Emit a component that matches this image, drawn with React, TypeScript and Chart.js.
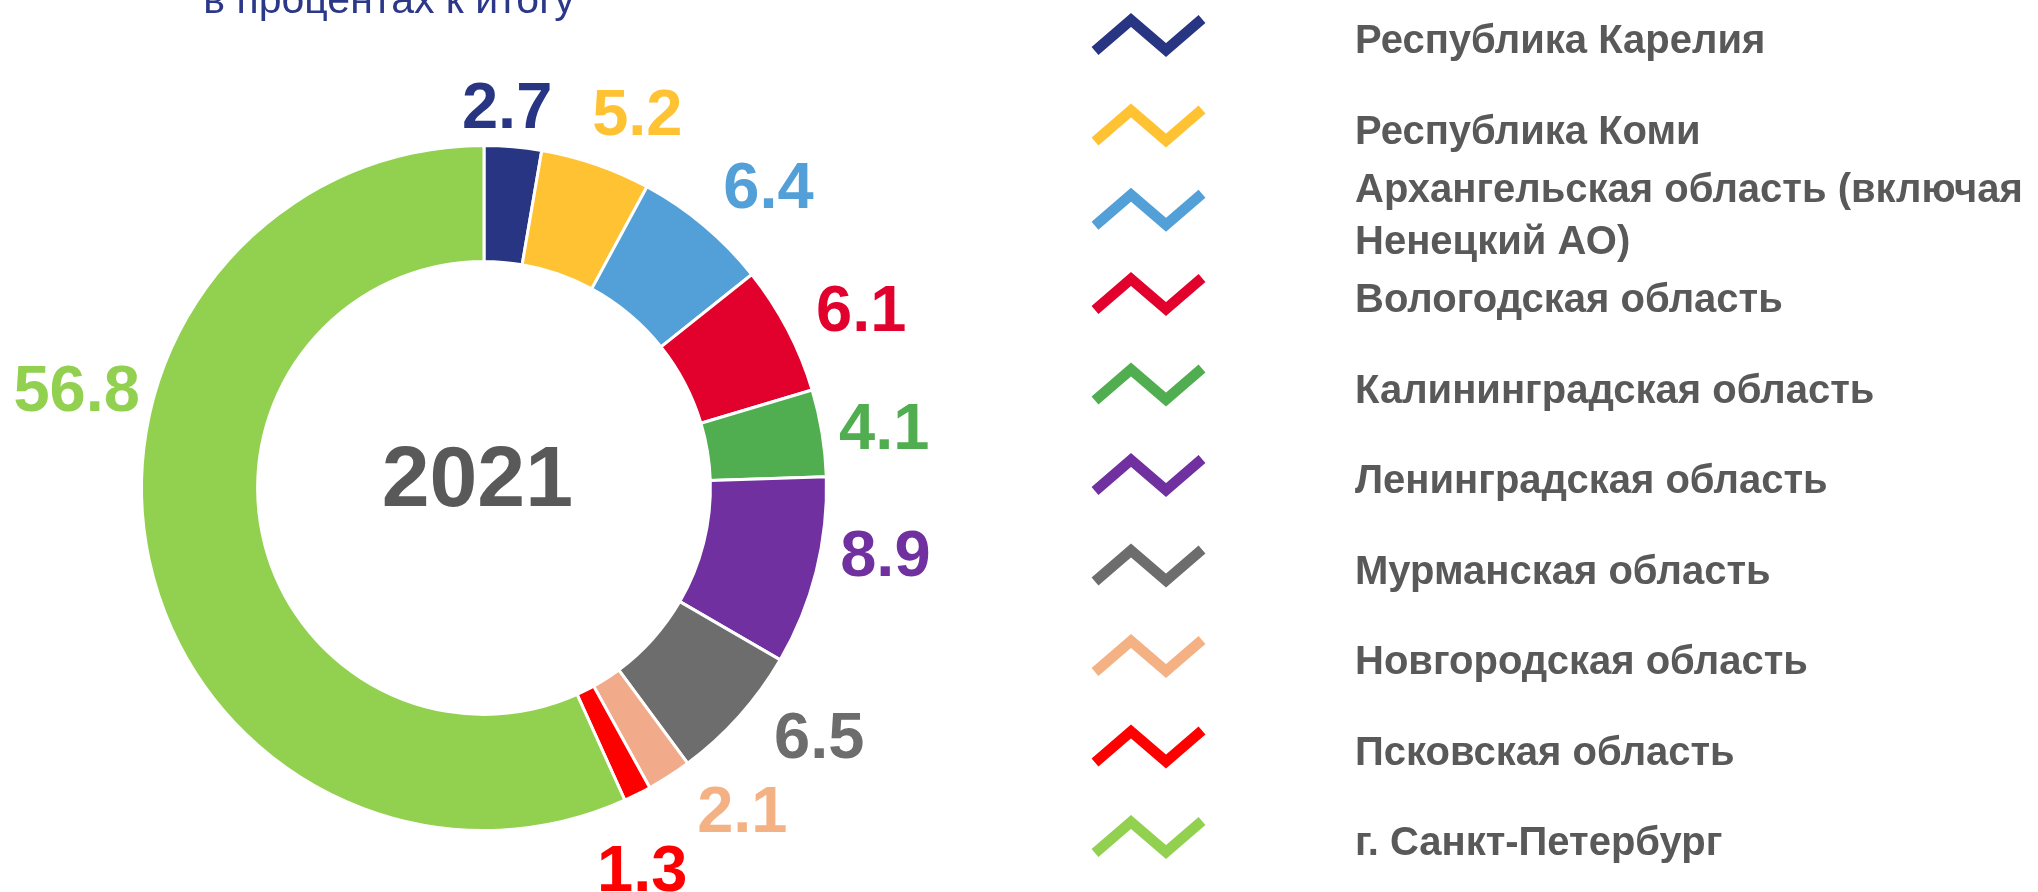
import React, { useEffect, useRef } from "react";
import { Chart, registerables } from "chart.js";

Chart.register(...registerables);

// ---- data ----
const regions: string[] = [
  "Республика Карелия",
  "Республика Коми",
  "Архангельская область (включая Ненецкий АО)",
  "Вологодская область",
  "Калининградская область",
  "Ленинградская область",
  "Мурманская область",
  "Новгородская область",
  "Псковская область",
  "г. Санкт-Петербург",
];
const shares2021: number[] = [2.7, 5.2, 6.4, 6.1, 4.1, 8.9, 6.5, 2.1, 1.3, 56.8];
const yearLabel = "2021";
const subtitle = "в процентах к итогу";

// ---- styles ----
const sliceColors: string[] = [
  "#283583",
  "#FFC232",
  "#52A0D7",
  "#E2002D",
  "#50AE50",
  "#7030A0",
  "#6D6D6D",
  "#F1AB8A",
  "#FF0000",
  "#92D050",
];
const labelColors: string[] = [
  "#283583",
  "#FFC232",
  "#52A0D7",
  "#E2002D",
  "#50AE50",
  "#7030A0",
  "#6D6D6D",
  "#F4B183",
  "#FF0000",
  "#92D050",
];
// label placement relative to each slice: angle shift (deg) from mid-angle, distance beyond outer radius
const labelAngleShift: number[] = [-1.4, 3.1, 3.3, 2.1, 0.4, -5.0, -5.4, -6.1, 4.0, 26.0];
const labelRadiusExtra: number[] = [41, 64, 73, 75.5, 62.5, 64, 74, 69.5, 69, 77];

const FONT = "'Liberation Sans', Arial, Helvetica, sans-serif";
const TEXT_GRAY = "#595959";

function wrapText(ctx: CanvasRenderingContext2D, text: string, maxWidth: number): string[] {
  const words = text.split(" ");
  const lines: string[] = [];
  let cur = "";
  for (const w of words) {
    const test = cur ? cur + " " + w : w;
    if (ctx.measureText(test).width > maxWidth && cur) {
      lines.push(cur);
      cur = w;
    } else {
      cur = test;
    }
  }
  if (cur) lines.push(cur);
  return lines;
}

const decorPlugin = {
  id: "decor",
  afterDraw(chart: any) {
    const ctx: CanvasRenderingContext2D = chart.ctx;
    const meta = chart.getDatasetMeta(0);
    ctx.save();

    // data labels
    const labelSize = 65;
    ctx.font = `bold ${labelSize}px ${FONT}`;
    ctx.textAlign = "center";
    ctx.textBaseline = "alphabetic";
    let cx = 0;
    let cy = 0;
    meta.data.forEach((arc: any, i: number) => {
      const p = arc.getProps(["x", "y", "startAngle", "endAngle", "outerRadius"], true);
      cx = p.x;
      cy = p.y;
      const mid = (p.startAngle + p.endAngle) / 2 + (labelAngleShift[i] * Math.PI) / 180;
      const r = p.outerRadius + labelRadiusExtra[i];
      const lx = p.x + r * Math.cos(mid);
      const ly = p.y + r * Math.sin(mid);
      ctx.fillStyle = labelColors[i];
      ctx.fillText(shares2021[i].toFixed(1), lx, ly + 0.358 * labelSize);
    });

    // centre year
    ctx.font = `bold 86px ${FONT}`;
    ctx.fillStyle = TEXT_GRAY;
    ctx.fillText(yearLabel, cx - 6.7, cy + 18);

    // subtitle (cut at the top)
    ctx.font = `41px ${FONT}`;
    ctx.fillStyle = "#2B3889";
    ctx.fillText(subtitle, 389, 12.7);

    // legend
    const textX = 1355;
    const single = 90.5;
    const dbl = 78;
    const lineGap = 52;
    const legendSize = 40;
    ctx.font = `bold ${legendSize}px ${FONT}`;
    ctx.textAlign = "left";
    const wrapped = regions.map((t) => wrapText(ctx, t, 700));
    const heights = wrapped.map((l) => (l.length > 1 ? dbl : single));
    let c = 39;
    wrapped.forEach((lines, i) => {
      if (i > 0) c += (heights[i - 1] + heights[i]) / 2;
      // marker
      ctx.strokeStyle = labelColors[i];
      ctx.lineWidth = 10.5;
      ctx.lineCap = "butt";
      ctx.lineJoin = "miter";
      ctx.beginPath();
      ctx.moveTo(1095, c + 12);
      ctx.lineTo(1131, c - 19);
      ctx.lineTo(1166, c + 11);
      ctx.lineTo(1202, c - 20);
      ctx.stroke();
      // text
      ctx.fillStyle = TEXT_GRAY;
      const n = lines.length;
      lines.forEach((ln, k) => {
        const ly = c + (k - (n - 1) / 2) * lineGap;
        ctx.fillText(ln, textX, ly + 0.358 * legendSize);
      });
    });

    ctx.restore();
  },
};

export default function App() {
  const ref = useRef<HTMLCanvasElement | null>(null);
  useEffect(() => {
    if (!ref.current) return;
    const chart = new Chart(ref.current, {
      type: "doughnut",
      data: {
        labels: regions,
        datasets: [
          {
            data: shares2021,
            backgroundColor: sliceColors,
            borderColor: "#FFFFFF",
            borderWidth: 3,
          },
        ],
      },
      options: {
        responsive: false,
        animation: false,
        devicePixelRatio: 1,
        cutout: "66.1%",
        layout: { padding: { top: 144, bottom: 60, left: 140, right: 1210 } },
        plugins: {
          legend: { display: false },
          tooltip: { enabled: false },
          title: { display: false },
        },
      },
      plugins: [decorPlugin],
    });
    return () => chart.destroy();
  }, []);
  return (
    <div style={{ position: "absolute", left: 0, top: 0, width: 2038, height: 892, background: "#fff", overflow: "hidden" }}>
      <canvas ref={ref} width={2038} height={892} style={{ display: "block", width: 2038, height: 892 }} />
    </div>
  );
}
